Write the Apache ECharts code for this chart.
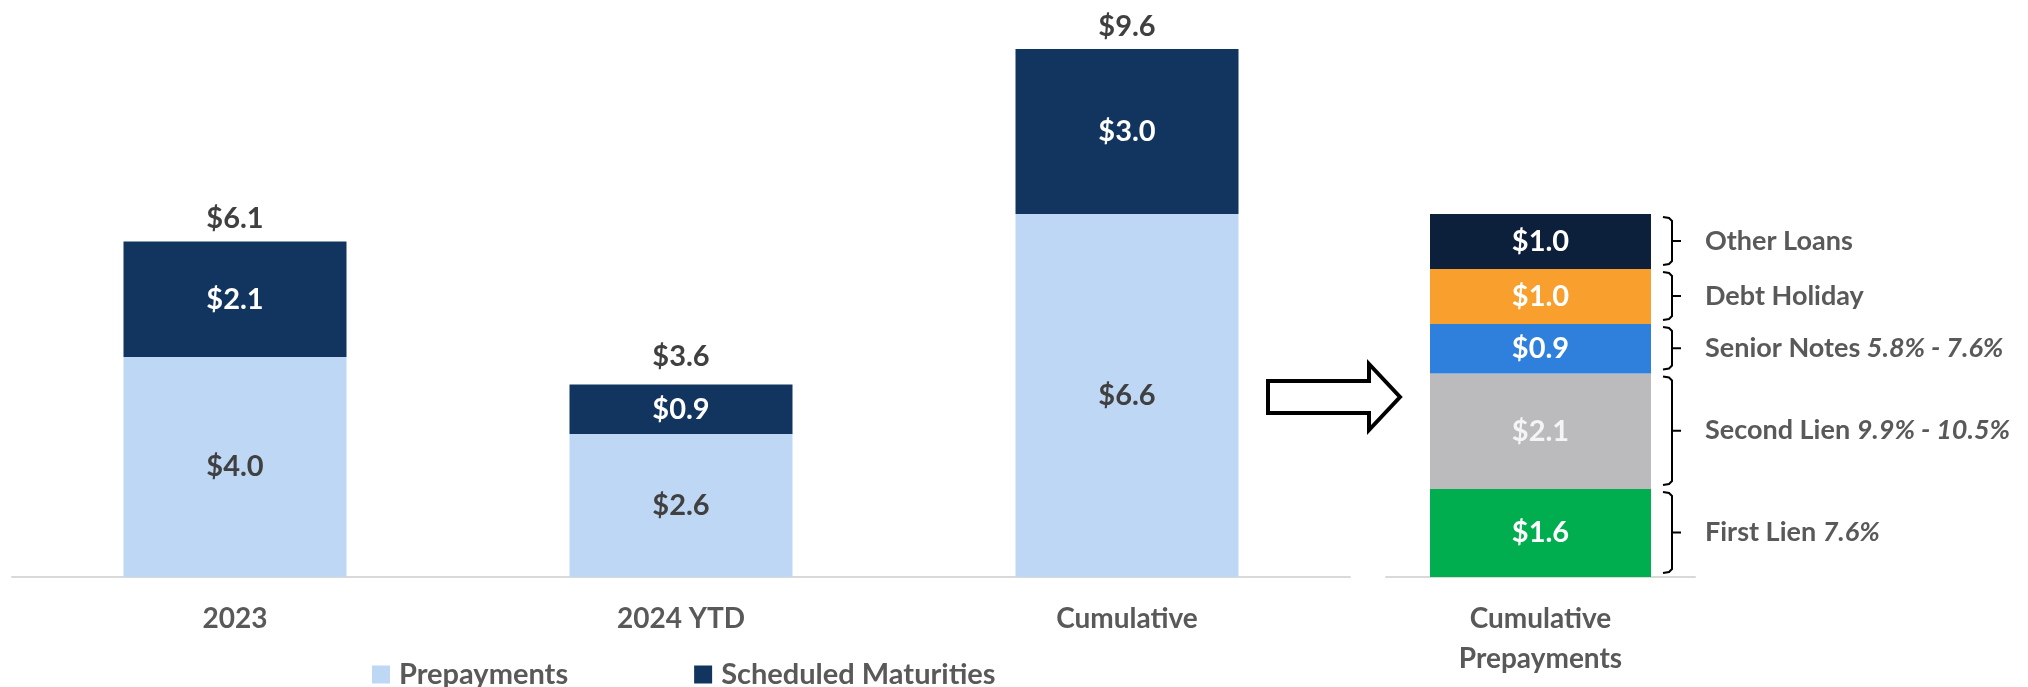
<!DOCTYPE html>
<html>
<head>
<meta charset="utf-8">
<script src="https://cdn.jsdelivr.net/npm/echarts@6/dist/echarts.min.js"></script>
<style>
  html, body { margin: 0; padding: 0; background: #ffffff; }
  #chart { width: 2028px; height: 687px; }
</style>
</head>
<body>
<div id="chart"></div>
<script>
// Repayment activity by period ($ billions)
const periods = ['2023', '2024 YTD', 'Cumulative'];
const prepayments = [4.0, 2.6, 6.6];
const scheduledMaturities = [2.1, 0.9, 3.0];
const totals = [6.1, 3.6, 9.6];

// Breakdown of cumulative prepayments, bottom to top
const breakdownCategory = ['Cumulative\nPrepayments'];
const breakdownNames = ['First Lien', 'Second Lien', 'Senior Notes', 'Debt Holiday', 'Other Loans'];
const breakdownRates = ['7.6%', '9.9% - 10.5%', '5.8% - 7.6%', '', ''];
const breakdownValues = [1.6, 2.1, 0.9, 1.0, 1.0];

const breakdownColors = ['#00AE50', '#BBBBBD', '#2F7FDD', '#F99F2E', '#0C1F3B'];
const breakdownLabelColors = ['#ffffff', '#F4F4F4', '#ffffff', '#ffffff', '#ffffff'];

const FONT = 'Lato, "Open Sans", sans-serif';
const money = v => '$' + Number(v).toFixed(1);

const chart = echarts.init(document.getElementById('chart'), null, { renderer: 'canvas' });

// cumulative extents of each breakdown segment, for the braces
const segments = [];
let acc = 0;
breakdownValues.forEach((v, i) => {
  segments.push([0, acc, acc + v, i]);
  acc += v;
});

const BAR_W_RIGHT = 221;
const VALUE_FONT = 29;

const axisLabelStyle = {
  fontFamily: FONT, fontWeight: 700, fontSize: 28, color: '#595959',
  lineHeight: 40, margin: 22
};

const series = [
  {
    // invisible full-height bars that carry the total labels
    name: 'Total', type: 'bar', xAxisIndex: 0, yAxisIndex: 0,
    data: totals, barWidth: '50%', barGap: '-100%', z: 1, silent: true,
    itemStyle: { color: 'rgba(255,255,255,0)' },
    label: {
      show: true, position: 'top', distance: 8, formatter: p => money(p.value),
      fontFamily: FONT, fontWeight: 700, fontSize: VALUE_FONT, color: '#404040'
    }
  },
  {
    name: 'Prepayments', type: 'bar', stack: 'period', xAxisIndex: 0, yAxisIndex: 0,
    data: prepayments, barWidth: '50%', barGap: '-100%', z: 2,
    itemStyle: { color: '#BDD7F5' },
    label: {
      show: true, position: 'inside', formatter: p => money(p.value),
      fontFamily: FONT, fontWeight: 700, fontSize: VALUE_FONT, color: '#404040'
    }
  },
  {
    name: 'Scheduled Maturities', type: 'bar', stack: 'period', xAxisIndex: 0, yAxisIndex: 0,
    data: scheduledMaturities, barWidth: '50%', barGap: '-100%', z: 2,
    itemStyle: { color: '#123560' },
    label: {
      show: true, position: 'inside', formatter: p => money(p.value),
      fontFamily: FONT, fontWeight: 700, fontSize: VALUE_FONT, color: '#ffffff'
    }
  }
];

breakdownNames.forEach((name, i) => {
  series.push({
    name: name, type: 'bar', stack: 'breakdown', xAxisIndex: 1, yAxisIndex: 1,
    data: [breakdownValues[i]], barWidth: BAR_W_RIGHT,
    itemStyle: { color: breakdownColors[i] },
    label: {
      show: true, position: 'inside', formatter: p => money(p.value),
      fontFamily: FONT, fontWeight: 700, fontSize: VALUE_FONT, color: breakdownLabelColors[i]
    }
  });
});

// braces and captions beside the breakdown bar
series.push({
  type: 'custom', xAxisIndex: 1, yAxisIndex: 1, silent: true, z: 5,
  data: segments,
  encode: { x: 0, y: [1, 2] },
  renderItem: (params, api) => {
    const idx = api.value(3);
    const top = api.coord([0, api.value(2)]);
    const bot = api.coord([0, api.value(1)]);
    const x0 = top[0] + BAR_W_RIGHT / 2 + 12;
    const xv = x0 + 9;
    const xn = x0 + 18;
    const yT = top[1] + 3;
    const yB = bot[1] - 4;
    const ym = (yT + yB) / 2;
    const rate = breakdownRates[idx];
    const text = '{b|' + breakdownNames[idx] + '}' + (rate ? '{b| }{i|' + rate + '}' : '');
    return {
      type: 'group',
      children: [
        {
          type: 'polyline',
          shape: { points: [[x0, yT], [xv - 3, yT + 1], [xv, yT + 4], [xv, yB - 4], [xv - 3, yB - 1], [x0, yB]] },
          style: { stroke: '#000000', lineWidth: 2, fill: null }
        },
        {
          type: 'line',
          shape: { x1: xv, y1: ym, x2: xn, y2: ym },
          style: { stroke: '#000000', lineWidth: 2 }
        },
        {
          type: 'text',
          x: x0 + 42, y: ym,
          style: {
            text: text,
            verticalAlign: 'middle', align: 'left',
            rich: {
              b: { fontFamily: FONT, fontWeight: 700, fontSize: 27, fill: '#595959', color: '#595959' },
              i: { fontFamily: FONT, fontWeight: 700, fontStyle: 'italic', fontSize: 27, fill: '#595959', color: '#595959' }
            }
          }
        }
      ]
    };
  }
});

chart.setOption({
  animation: false,
  backgroundColor: '#ffffff',
  grid: [
    { left: 12, top: 27, width: 1338, height: 550 },
    { left: 1386, top: 27, width: 309, height: 550 }
  ],
  xAxis: [
    {
      type: 'category', gridIndex: 0, data: periods,
      axisLine: { lineStyle: { color: '#D9D9D9', width: 2 } },
      axisTick: { show: false }, axisLabel: axisLabelStyle
    },
    {
      type: 'category', gridIndex: 1, data: breakdownCategory,
      axisLine: { lineStyle: { color: '#D9D9D9', width: 2 } },
      axisTick: { show: false }, axisLabel: axisLabelStyle
    }
  ],
  yAxis: [
    { type: 'value', gridIndex: 0, min: 0, max: 10, show: false, splitLine: { show: false } },
    { type: 'value', gridIndex: 1, min: 0, max: 10, show: false, splitLine: { show: false } }
  ],
  legend: {
    data: ['Prepayments', 'Scheduled Maturities'],
    left: 367, top: 655,
    icon: 'rect', itemWidth: 18, itemHeight: 18, itemGap: 126,
    textStyle: { fontFamily: FONT, fontWeight: 700, fontSize: 29, color: '#595959', padding: [0, 0, 0, 4] }
  },
  graphic: [
    {
      // outlined arrow pointing at the breakdown
      type: 'polygon',
      shape: { points: [[1268, 381], [1369, 381], [1369, 364], [1400, 397], [1369, 430], [1369, 413], [1268, 413]] },
      style: { fill: '#ffffff', stroke: '#000000', lineWidth: 4 }
    }
  ],
  series: series
});
</script>
</body>
</html>
